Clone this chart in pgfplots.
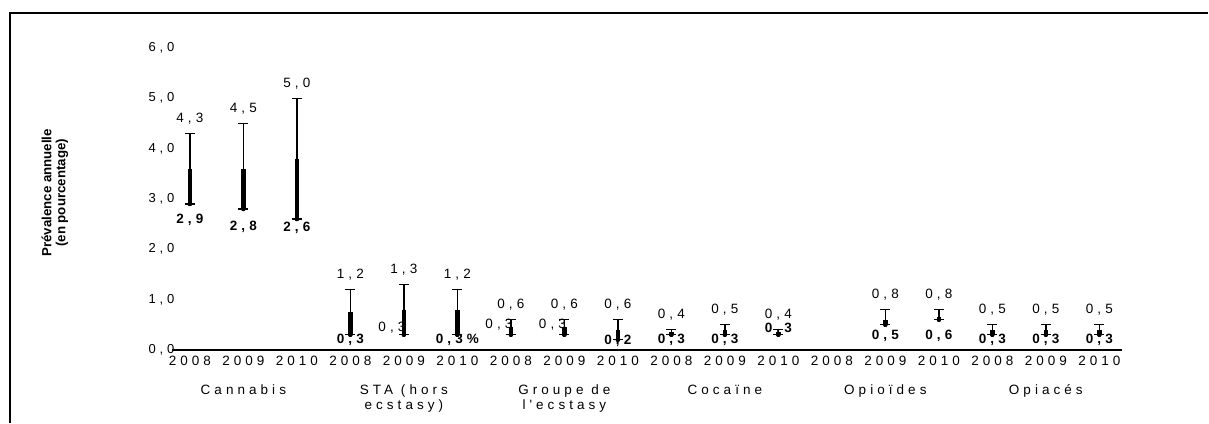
\documentclass[border=0pt]{standalone}
\usepackage{fontspec}
\setmainfont{Liberation Sans}
\newfontfamily\spaced[LetterSpace=30]{Liberation Sans}
\usepackage{pgfplots}
\pgfplotsset{compat=1.18}
\usepackage{pgfplotstable}

% x  low  mid  high  top-label
\pgfplotstableread{
x  low  mid  high tl
0  2.9  3.6  4.3  4,3
1  2.8  3.6  4.5  4,5
2  2.6  3.8  5.0  5,0
3  0.3  0.75 1.2  1,2
4  0.3  0.8  1.3  1,3
5  0.3  0.8  1.2  1,2
6  0.3  0.45 0.6  0,6
7  0.3  0.45 0.6  0,6
8  0.2  0.4  0.6  0,6
9  0.3  0.35 0.4  0,4
10 0.3  0.4  0.5  0,5
11 0.3  0.35 0.4  0,4
13 0.5  0.6  0.8  0,8
14 0.6  0.65 0.8  0,8
15 0.3  0.4  0.5  0,5
16 0.3  0.4  0.5  0,5
17 0.3  0.4  0.5  0,5
}\bars

% low labels: position of the label centre
\pgfplotstableread{
x  y     lab
0  2.58  2,9
1  2.45  2,8
2  2.42  2,6
3  0.20  0,3
5  0.20  0,3\%
8  0.17  0,2
9  0.20  0,3
10 0.20  0,3
13 0.27  0,5
14 0.27  0,6
15 0.20  0,3
16 0.20  0,3
17 0.20  0,3
11 0.41  0,3
}\lowbelow

% low labels placed to the left of the bar
\pgfplotstableread{
x  y    lab
4  0.44 0,3
6  0.50 0,3
7  0.50 0,3
}\lowleft

\begin{document}
\begin{tikzpicture}
\begin{axis}[
  scale only axis,
  width=951pt, height=302pt,
  xmin=-0.336, xmax=17.43,
  ymin=0, ymax=6,
  axis x line*=bottom,
  axis y line*=left,
  y axis line style={draw=none},
  x axis line style={line width=1.6pt,-},
  major tick length=0pt,
  xtick={0,...,17},
  xticklabels={2008,{2009\\[14pt]Cannabis},2010,
               2008,{2009\\[14pt]STA (hors\\ecstasy)},2010,
               2008,{2009\\[14pt]Groupe de\\l'ecstasy},2010,
               2008,{2009\\[14pt]Cocaïne},2010,
               2008,{2009\\[14pt]Opioïdes},2010,
               2008,{2009\\[14pt]Opiacés},2010},
  xticklabel style={font=\spaced\fontsize{13.5}{15}\selectfont, align=center, anchor=north, yshift=-3pt},
  ytick={0,1,...,6},
  yticklabel={\pgfmathprintnumber[fixed,fixed zerofill,precision=1,use comma]{\tick}},
  yticklabel style={font=\spaced\fontsize{13}{15}\selectfont, anchor=east, xshift=6pt},
  /pgf/number format/assume math mode=true,
  clip=false,
  ylabel={Prévalence annuelle\\(en pourcentage)},
  every axis y label/.style={at={(rel axis cs:0,0.52)}, xshift=-117pt, rotate=90, anchor=center,
     align=center, font=\bfseries\fontsize{13.3}{14}\selectfont},
]
% thin full interval
\addplot[only marks, mark=none,
  error bars/.cd, y dir=both, y explicit,
  error mark=-, error mark options={line width=1.5pt, mark size=5pt, rotate=90},
  error bar style={line width=1.6pt, black}]
  table[x=x, y=low, y error plus expr=\thisrow{high}-\thisrow{low}, y error minus expr=0] {\bars};
% thick lower part
\addplot[only marks, mark=none,
  error bars/.cd, y dir=plus, y explicit, error mark=none,
  error bar style={line width=4.5pt, black}]
  table[x=x, y=low, y error plus expr=\thisrow{mid}-\thisrow{low}] {\bars};
% top labels
\addplot[only marks, mark=none, nodes near coords, point meta=explicit symbolic,
  nodes near coords style={anchor=south, yshift=6pt, font=\spaced\fontsize{13.5}{15}\selectfont}]
  table[x=x, y=high, meta=tl] {\bars};
% low labels (bold)
\addplot[only marks, mark=none, nodes near coords, point meta=explicit symbolic,
  nodes near coords style={anchor=center, font=\spaced\bfseries\fontsize{13.5}{15}\selectfont}]
  table[x=x, y=y, meta=lab] {\lowbelow};
% low labels on the left
\addplot[only marks, mark=none, nodes near coords, point meta=explicit symbolic,
  nodes near coords style={anchor=east, xshift=5pt, font=\spaced\fontsize{13.5}{15}\selectfont}]
  table[x=x, y=y, meta=lab] {\lowleft};
\end{axis}
\draw[line width=1.4pt] (-162pt,-73pt) -- (-162pt,337pt) -- (1037pt,337pt);
\useasboundingbox (-172pt,-73pt) rectangle (1037pt,350pt);
\end{tikzpicture}
\end{document}
